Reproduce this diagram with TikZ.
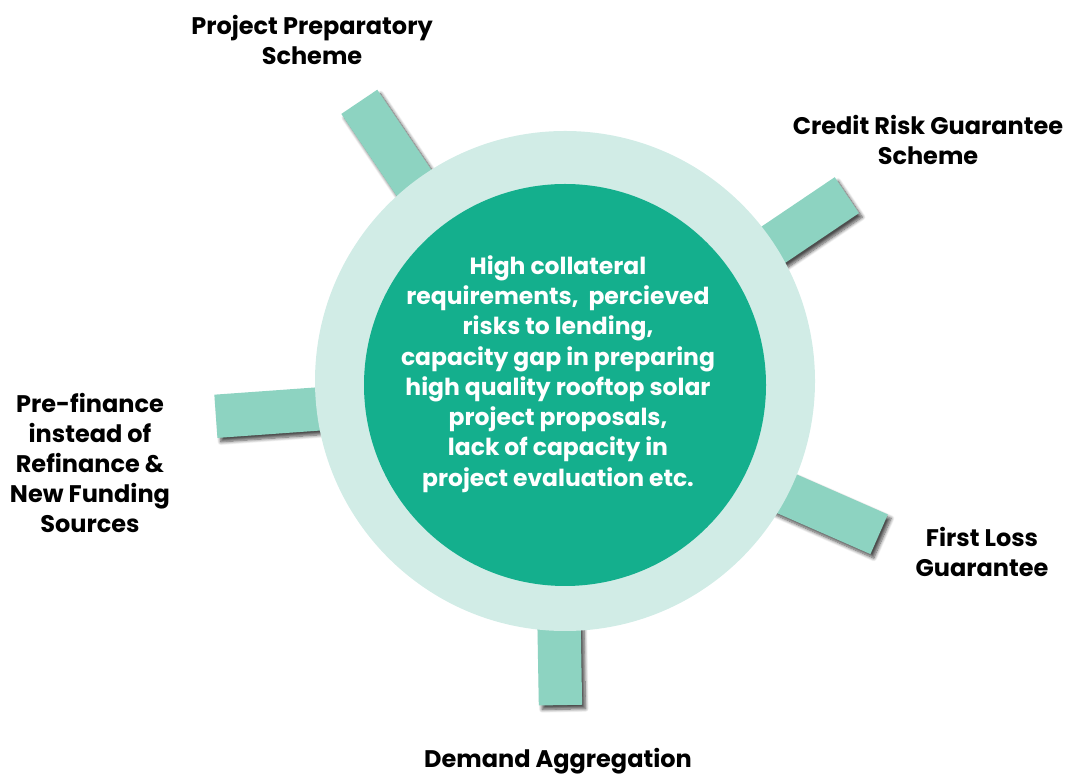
\documentclass[tikz,border=0pt]{standalone}
\usepackage{fontspec}
\setmainfont{Poppins}
\usetikzlibrary{calc,shadows.blur}

\definecolor{spoke}{HTML}{8DD3C1}
\definecolor{ring}{HTML}{D1ECE6}
\definecolor{core}{HTML}{14AF8D}

\tikzset{
  spokebar/.style={ fill=spoke, minimum height=32.5pt, inner sep=0pt,
    blur shadow={shadow xshift=2.5pt, shadow yshift=-3pt, shadow opacity=70, shadow blur steps=8, shadow blur radius=2.5pt} },
  caption/.style={ font=\bfseries\fontsize{18}{22.5}\selectfont, align=center, text=black },
}

\begin{document}
\begin{tikzpicture}[x=0.75pt,y=0.75pt]
	  \useasboundingbox (0,0) rectangle (1066,774);
	  \coordinate (hub) at (555,382);

	  \node [ spokebar, rotate=124, minimum width=97.5pt ] (prep) at ($(hub)+(124:285)$) {};
	  \node [ spokebar, rotate=34, minimum width=99pt ] (credit) at ($(hub)+(34:286)$) {};
	  \node [ spokebar, rotate=184.1, minimum width=90pt ] (prefin) at ($(hub)+(184.1:280)$) {};
	  \node [ spokebar, rotate=-23.7, minimum width=100.5pt ] (loss) at ($(hub)+(-23.7:287)$) {};
	  \node [ spokebar, rotate=-89, minimum width=70pt ] (demand) at ($(hub)+(-89:266.5)$) {};

	  \node [ circle, fill=ring, minimum size=375pt, inner sep=0pt ] (ring) at (565,393) {};
	  \node [ circle, fill=core, minimum size=301.5pt, inner sep=0pt ] (core) at (565,389) {};
	  \node [ caption, text=white, font=\bfseries\fontsize{17.6}{22.7}\selectfont ] (issue) at (558,400) {High collateral\\requirements,\ \ percieved\\risks to lending,\\capacity gap in preparing\\high quality rooftop solar\\project proposals,\\lack of capacity in\\project evaluation etc.};

	  \node [ caption ] (prepl) at (312,734) {Project Preparatory\\Scheme};
	  \node [ caption ] (creditl) at (928,634) {Credit Risk Guarantee\\Scheme};
	  \node [ caption ] (prefinl) at (90,311) {Pre-finance\\instead of\\Refinance \&\\New Funding\\Sources};
	  \node [ caption ] (lossl) at (982,222) {First Loss\\Guarantee};
	  \node [ caption ] (demandl) at (558,13) {Demand Aggregation};
	\end{tikzpicture}
\end{document}
